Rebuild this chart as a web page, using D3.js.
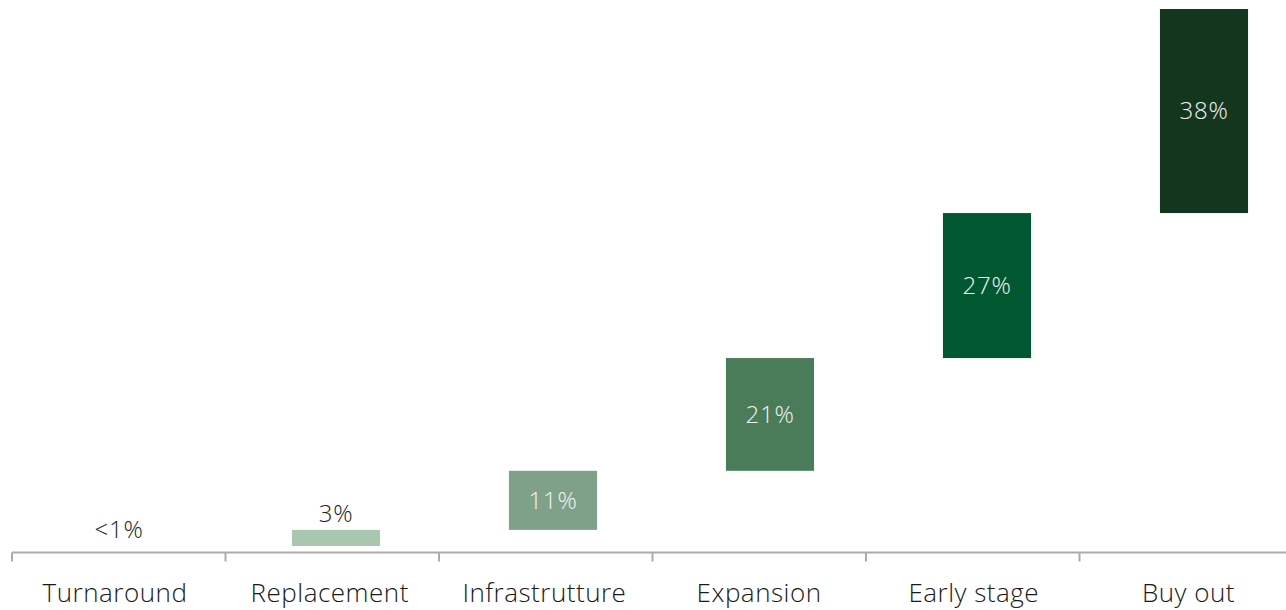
<!DOCTYPE html>
<html>
<head>
<meta charset="utf-8">
<script src="https://cdn.jsdelivr.net/npm/d3@7"></script>
<style>
  html, body { margin: 0; padding: 0; background: #ffffff; }
  svg { display: block; }
</style>
</head>
<body>
<svg id="chart" width="1286" height="610"></svg>
<script>
const categories = ["Turnaround", "Replacement", "Infrastrutture", "Expansion", "Early stage", "Buy out"];
const values = [0, 3, 11, 21, 27, 38];
const valueLabels = ["<1%", "3%", "11%", "21%", "27%", "38%"];
const colors = ["#a9c6ae", "#a9c6ae", "#80a189", "#4a7c5a", "#005730", "#14361f"];

const svg = d3.select("#chart");

// waterfall: compute start/end
let acc = 0;
const data = categories.map((c, i) => {
  const start = acc;
  acc += values[i];
  return { cat: c, start, end: acc, value: values[i], label: valueLabels[i], color: colors[i] };
});

const y = d3.scaleLinear().domain([0, 100]).range([546, 9]);

// axis scale (category slots / tick marks)
const xAxisScale = d3.scaleBand().domain(categories).range([12, 1293]).padding(0);
// category label scale
const xLabel = d3.scaleBand().domain(categories).range([7.65, 1295.85]).padding(0);
// bar scale
const xBar = d3.scaleBand().domain(categories).range([10.5, 1312.5]).paddingInner(0.594).paddingOuter(0.297);

const fontFam = "'Open Sans', Lato, sans-serif";

// bars
svg.append("g").selectAll("rect").data(data).join("rect")
  .attr("x", d => xBar(d.cat))
  .attr("width", xBar.bandwidth())
  .attr("y", d => y(d.end))
  .attr("height", d => Math.max(0, y(d.start) - y(d.end)))
  .attr("fill", d => d.color);

// value labels
const isSmall = d => (y(d.start) - y(d.end)) < 30;
svg.append("g").selectAll("text").data(data).join("text")
  .attr("x", d => xBar(d.cat) + xBar.bandwidth() / 2)
  .attr("y", d => isSmall(d) ? y(d.end) - 8 : (y(d.start) + y(d.end)) / 2)
  .attr("dy", d => isSmall(d) ? "0" : "0.35em")
  .attr("text-anchor", "middle")
  .attr("font-family", fontFam)
  .attr("font-weight", 300)
  .attr("font-size", 24)
  .attr("letter-spacing", "0.8px")
  .attr("fill", d => isSmall(d) ? "#222222" : "#f2f2f2")
  .text(d => d.label);

// axis line
const axisY = 552.5;
const ag = svg.append("g");
ag.append("line")
  .attr("x1", xAxisScale.range()[0]).attr("x2", xAxisScale.range()[1])
  .attr("y1", axisY).attr("y2", axisY)
  .attr("stroke", "#ababab").attr("stroke-width", 2);

const tickXs = categories.map(c => xAxisScale(c)).concat([xAxisScale.range()[1]]);
ag.selectAll("line.tick").data(tickXs).join("line")
  .attr("class", "tick")
  .attr("x1", d => d).attr("x2", d => d)
  .attr("y1", axisY).attr("y2", axisY + 9)
  .attr("stroke", "#ababab").attr("stroke-width", 2);

ag.selectAll("text").data(categories).join("text")
  .attr("x", d => xLabel(d) + xLabel.bandwidth() / 2)
  .attr("y", 602)
  .attr("text-anchor", "middle")
  .attr("font-family", fontFam)
  .attr("font-weight", 300)
  .attr("font-size", 26)
  .attr("letter-spacing", "0.5px")
  .attr("fill", "#1a1a1a")
  .text(d => d);
</script>
</body>
</html>
